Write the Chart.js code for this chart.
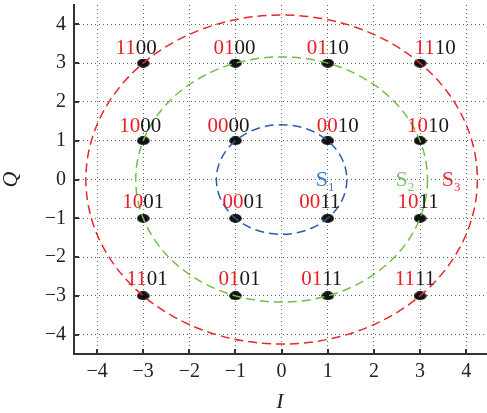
<!DOCTYPE html>
<html>
<head>
<meta charset="utf-8">
<script src="https://cdn.jsdelivr.net/npm/chart.js@4/dist/chart.umd.min.js"></script>
<style>
  html, body { margin: 0; padding: 0; background: #fff; }
  #wrap { width: 487px; height: 413px; }
</style>
</head>
<body>
<div id="wrap"><canvas id="qam"></canvas></div>
<script>
// 16-QAM constellation points
const iValues = [-3, -1, 1, 3, -3, -1, 1, 3, -3, -1, 1, 3, -3, -1, 1, 3];
const qValues = [3, 3, 3, 3, 1, 1, 1, 1, -1, -1, -1, -1, -3, -3, -3, -3];
const bitLabels = ['1100', '0100', '0110', '1110',
                   '1000', '0000', '0010', '1010',
                   '1001', '0001', '0011', '1011',
                   '1101', '0101', '0111', '1111'];
// energy rings S1..S3
const ringNames = ['1', '2', '3'];
const ringRadii = [1.414, 3.162, 4.243];
const tickValues = [-4, -3, -2, -1, 0, 1, 2, 3, 4];

const ringColors = ['#2b5cab', '#72bf44', '#e8262e'];
const ringTextColors = ['#3a7cc4', '#7cc36a', '#e8303c'];
const ringTextX = [0.87, 2.6, 3.6];
// small nudges of the bit labels, px (as in the figure)
const labelDx = [-7, -1, 0, 15, -3, -7, 10, 8, 0, 8, -8, -2, 4, 4, -6, -5];
const labelDy = [-9, -9, -9, -9, -9, -9, -9, -9, -10, -10, -10, -10, -11, -11, -11, -11];

const SERIF = '"Liberation Serif", "DejaVu Serif", serif';

// black ellipse used as point marker
const dot = document.createElement('canvas');
dot.width = 13; dot.height = 9;
const dctx = dot.getContext('2d');
dctx.fillStyle = '#111';
dctx.beginPath();
dctx.ellipse(6.5, 4.5, 6.3, 4.4, 0, 0, Math.PI * 2);
dctx.fill();

const overlay = {
  id: 'overlay',
  afterDatasetsDraw(chart) {
    const { ctx, chartArea, scales: { x, y } } = chart;
    const cx = x.getPixelForValue(0), cy = y.getPixelForValue(0);

    // dashed rings
    ctx.save();
    ctx.beginPath();
    ctx.rect(chartArea.left, chartArea.top, chartArea.right - chartArea.left, chartArea.bottom - chartArea.top);
    ctx.clip();
    ringRadii.forEach((r, k) => {
      const rx = x.getPixelForValue(r) - cx;
      const ry = cy - y.getPixelForValue(r);
      ctx.strokeStyle = ringColors[k];
      ctx.lineWidth = 1.5;
      ctx.setLineDash([9, 5]);
      ctx.beginPath();
      ctx.ellipse(cx, cy, rx, ry, 0, 0, Math.PI * 2);
      ctx.stroke();
    });
    ctx.restore();

    // bit labels: first two bits red, last two black
    ctx.save();
    ctx.font = '21px ' + SERIF;
    ctx.textBaseline = 'alphabetic';
    ctx.textAlign = 'left';
    bitLabels.forEach((lab, k) => {
      const px = x.getPixelForValue(iValues[k]) + labelDx[k];
      const py = y.getPixelForValue(qValues[k]) + labelDy[k];
      const a = lab.slice(0, 2), b = lab.slice(2);
      const wa = ctx.measureText(a).width, wb = ctx.measureText(b).width;
      const x0 = px - (wa + wb) / 2;
      ctx.fillStyle = '#ec1c24';
      ctx.fillText(a, x0, py);
      ctx.fillStyle = '#1a1a1a';
      ctx.fillText(b, x0 + wa, py);
    });

    // ring names S1, S2, S3
    ringNames.forEach((n, k) => {
      const px = x.getPixelForValue(ringTextX[k]);
      const py = cy + 6;
      ctx.fillStyle = ringTextColors[k];
      ctx.font = '22px ' + SERIF;
      const ws = ctx.measureText('S').width;
      ctx.fillText('S', px - 6, py);
      ctx.font = '13px ' + SERIF;
      ctx.fillText(n, px - 6 + ws, py + 5);
    });
    ctx.restore();
  },
  afterDraw(chart) {
    // inward tick marks
    const { ctx, chartArea, scales: { x, y } } = chart;
    ctx.save();
    ctx.strokeStyle = '#333';
    ctx.lineWidth = 2;
    tickValues.forEach(v => {
      const px = Math.round(x.getPixelForValue(v));
      ctx.beginPath();
      ctx.moveTo(px, chartArea.bottom);
      ctx.lineTo(px, chartArea.bottom - 5);
      ctx.stroke();
      const py = Math.round(y.getPixelForValue(v));
      ctx.beginPath();
      ctx.moveTo(chartArea.left, py);
      ctx.lineTo(chartArea.left + 5, py);
      ctx.stroke();
    });
    ctx.restore();
  }
};

const gridOpts = {
  color: 'rgba(70,70,70,0.85)',
  lineWidth: 1,
  drawTicks: false
};

function noPad(s) {
  s.paddingTop = 0; s.paddingBottom = 0;
  s.paddingLeft = 0; s.paddingRight = 0;
}

new Chart(document.getElementById('qam'), {
  type: 'scatter',
  data: {
    datasets: [{
      data: iValues.map((v, k) => ({ x: v, y: qValues[k] })),
      pointStyle: dot,
      // marker size comes from the image; keep radius tiny so no extra padding
      pointRadius: 1,
      pointHoverRadius: 1,
      pointBorderWidth: 0,
      borderWidth: 0
    }]
  },
  options: {
    responsive: true,
    maintainAspectRatio: false,
    animation: false,
    layout: { padding: { top: 5, right: 0, left: 0, bottom: 0 } },
    plugins: { legend: { display: false }, tooltip: { enabled: false } },
    scales: {
      x: {
        type: 'linear',
        min: -4.5,
        max: 4.43,
        afterBuildTicks: s => { s.ticks = tickValues.map(v => ({ value: v })); },
        afterFit: s => { s.height = 59; noPad(s); },
        grid: gridOpts,
        border: { display: true, color: '#333', width: 2, dash: [1, 3] },
        ticks: {
          padding: 6,
          color: '#222',
          font: { family: SERIF, size: 20 },
          callback: v => String(v).replace('-', '\u2212')
        },
        title: {
          display: true,
          text: 'I',
          color: '#222',
          padding: 0,
          font: { family: SERIF, size: 22, style: 'italic', lineHeight: 1 }
        }
      },
      y: {
        type: 'linear',
        min: -4.5,
        max: 4.5,
        afterBuildTicks: s => { s.ticks = tickValues.map(v => ({ value: v })); },
        afterFit: s => { s.width = 74; noPad(s); },
        grid: gridOpts,
        border: { display: true, color: '#333', width: 2, dash: [1, 3] },
        ticks: {
          padding: 8,
          color: '#222',
          font: { family: SERIF, size: 20 },
          callback: v => String(v).replace('-', '\u2212')
        },
        title: {
          display: true,
          text: 'Q',
          color: '#222',
          padding: 0,
          font: { family: SERIF, size: 22, style: 'italic', lineHeight: 1 }
        }
      }
    }
  },
  plugins: [overlay]
});
</script>
</body>
</html>
